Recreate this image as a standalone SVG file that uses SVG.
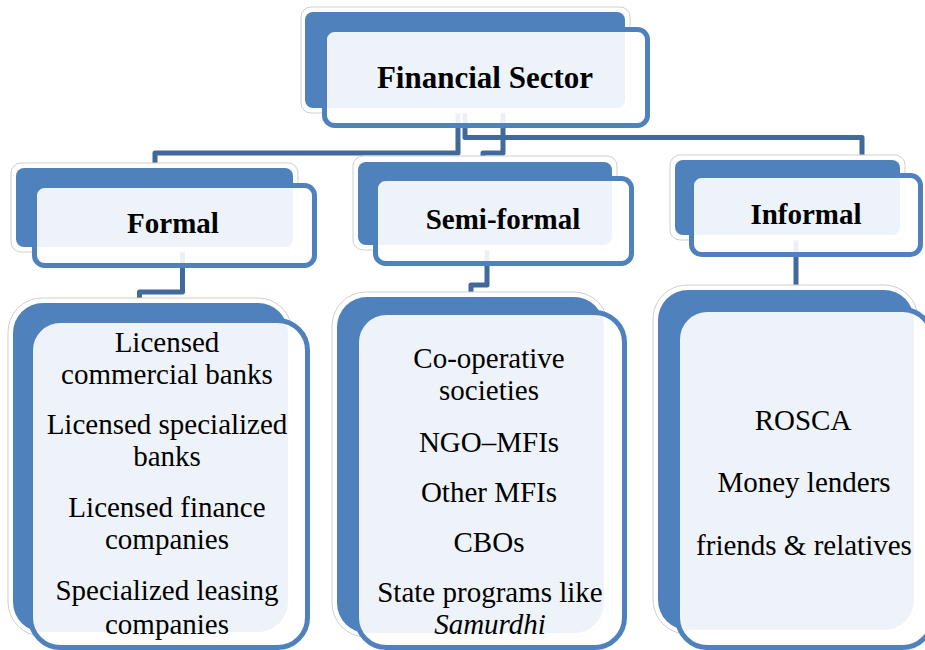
<svg xmlns="http://www.w3.org/2000/svg" width="925" height="650" viewBox="0 0 925 650">
<style>
.shadow{fill:#ffffff;stroke:#cfcfcf;stroke-width:1}
.back{fill:#4f81bd}
.front{fill:#ffffff;fill-opacity:0.9;stroke:#4f81bd;stroke-width:5}
.conn{fill:none;stroke:#41699b;stroke-width:5;stroke-linejoin:round}
.head{font-weight:bold;fill:#000;text-anchor:middle}
.body{font-size:29px;fill:#000;text-anchor:middle}
</style>
<rect width="925" height="650" fill="#ffffff"/>
<g id="connectors">
<path class="conn" d="M458,108 V153 H155 V165"/>
<path class="conn" d="M503,108 V153 H483 V160"/>
<path class="conn" d="M465,108 V137.5 H862 V158"/>
<path class="conn" d="M182.5,247 V292 H139.5 V300"/>
<path class="conn" d="M487,245 V285 H471 V295"/>
<path class="conn" d="M796,235 V290"/>
</g>
<g font-family="Liberation Serif, Times New Roman, Times, serif">
<g id="financial-sector">
<rect class="shadow" x="301" y="7" width="329" height="106" rx="10"/>
<rect class="back" x="305" y="12" width="320" height="96" rx="8"/>
<rect class="front" x="324.5" y="29.5" width="323" height="96" rx="10"/>
<text class="head" x="485" y="88" font-size="31">Financial Sector</text>
</g>
<g id="formal">
<rect class="shadow" x="11" y="163" width="287" height="89" rx="10"/>
<rect class="back" x="16" y="168" width="277" height="79" rx="8"/>
<rect class="front" x="34.5" y="185.5" width="280" height="80" rx="10"/>
<text class="head" x="173" y="233" font-size="29">Formal</text>
</g>
<g id="semi-formal">
<rect class="shadow" x="353" y="156" width="264" height="94" rx="10"/>
<rect class="back" x="358" y="162" width="254" height="83" rx="8"/>
<rect class="front" x="375.5" y="178.5" width="256" height="85" rx="10"/>
<text class="head" x="503" y="229" font-size="29">Semi-formal</text>
</g>
<g id="informal">
<rect class="shadow" x="670" y="155" width="235" height="85" rx="10"/>
<rect class="back" x="675" y="160" width="225" height="75" rx="8"/>
<rect class="front" x="691.5" y="175.5" width="229" height="79" rx="10"/>
<text class="head" x="806" y="224" font-size="29">Informal</text>
</g>
<g id="formal-list">
<rect class="shadow" x="8" y="298" width="284" height="338" rx="34"/>
<rect class="back" x="13" y="303" width="275" height="329" rx="30"/>
<rect class="front" x="30.5" y="320.5" width="277" height="327" rx="30"/>
<text class="body" x="167" y="352">Licensed</text>
<text class="body" x="167" y="384">commercial banks</text>
<text class="body" x="167" y="434">Licensed specialized</text>
<text class="body" x="167" y="466">banks</text>
<text class="body" x="167" y="517">Licensed finance</text>
<text class="body" x="167" y="549">companies</text>
<text class="body" x="167" y="600">Specialized leasing</text>
<text class="body" x="167" y="634">companies</text>
</g>
<g id="semi-formal-list">
<rect class="shadow" x="332" y="292" width="276" height="345" rx="34"/>
<rect class="back" x="337" y="297" width="267" height="336" rx="30"/>
<rect class="front" x="356.5" y="312.5" width="268" height="335" rx="30"/>
<text class="body" x="489" y="368">Co-operative</text>
<text class="body" x="489" y="400">societies</text>
<text class="body" x="489" y="452">NGO–MFIs</text>
<text class="body" x="489" y="502">Other MFIs</text>
<text class="body" x="489" y="552">CBOs</text>
<text class="body" x="490" y="602">State programs like</text>
<text class="body" x="490" y="634" font-style="italic">Samurdhi</text>
</g>
<g id="informal-list">
<rect class="shadow" x="653" y="285" width="265" height="349" rx="34"/>
<rect class="back" x="658" y="290" width="256" height="340" rx="30"/>
<rect class="front" x="677.5" y="309.5" width="255" height="338" rx="30"/>
<text class="body" x="803" y="430">ROSCA</text>
<text class="body" x="804" y="492">Money lenders</text>
<text class="body" x="804" y="555">friends &amp; relatives</text>
</g>
</g>
</svg>
